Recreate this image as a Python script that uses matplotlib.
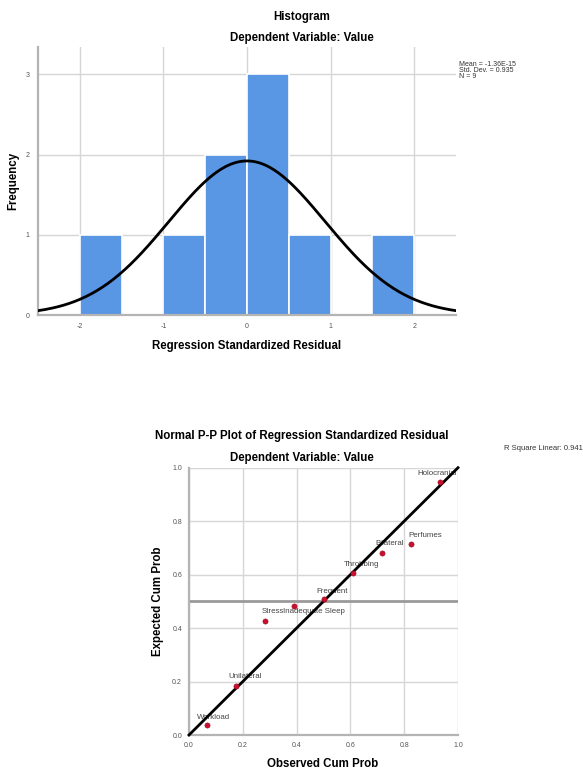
import numpy as np
import matplotlib
matplotlib.use("Agg")
import matplotlib.pyplot as plt

plt.rcParams['font.family'] = ['Liberation Sans', 'DejaVu Sans']
plt.rcParams['axes.unicode_minus'] = False

# histogram of standardized residuals (bin start, frequency)
bin_starts = [-2.0, -1.5, -1.0, -0.5, 0.0, 0.5, 1.0, 1.5]
bin_counts = [1, 0, 1, 2, 3, 1, 0, 1]
bin_width = 0.5
resid_mean = -1.36e-15
resid_std = 0.935
resid_n = 9

# normal P-P plot
pp_labels = ["Workload", "Unilateral", "Stress", "Inadequate Sleep", "Frequent",
             "Throbbing", "Bilateral", "Perfumes", "Holocranial"]
observed_cum = [0.068, 0.176, 0.284, 0.392, 0.500, 0.608, 0.716, 0.824, 0.932]
expected_cum = [0.037, 0.184, 0.428, 0.484, 0.508, 0.605, 0.682, 0.714, 0.945]
r_square = 0.941

# label offsets (pixels) relative to each point
label_dx = [-10, -8, -4, -11, -7, -9, -6, -2, -22]
label_dy = [8, 9, 9, -6, 8, 9, 9, 9, 9]

W, H = 583, 771
fig = plt.figure(figsize=(W / 100, H / 100), dpi=100)


def px(x, y):
    return x / W, 1 - y / H


def ax_rect(x0, y0, x1, y1):
    return [x0 / W, 1 - y1 / H, (x1 - x0) / W, (y1 - y0) / H]


grid_col = '#d6d6d6'
spine_col = '#b4b4b4'
tick_col = '#555555'
bold = dict(fontsize=8.3, fontweight='bold', ha='center', va='center')

# ---------------- histogram ----------------
ax1 = fig.add_axes(ax_rect(38, 47, 456, 315))
ax1.bar(bin_starts, bin_counts, width=bin_width, align='edge',
        color='#5996e3', edgecolor='white', linewidth=1.2, zorder=2)
xs = np.linspace(-2.5, 2.5, 300)
curve = resid_n * bin_width * np.exp(-0.5 * ((xs - resid_mean) / resid_std) ** 2) / (resid_std * np.sqrt(2 * np.pi))
ax1.plot(xs, curve, color='black', lw=2, zorder=3)
ax1.set_xlim(-2.5, 2.5)
ax1.set_ylim(0, 3.34)
ax1.set_xticks([-2, -1, 0, 1, 2])
ax1.set_yticks([0, 1, 2, 3])
ax1.grid(True, color=grid_col, lw=1, zorder=0)
ax1.set_axisbelow(True)
for s in ['top', 'right']:
    ax1.spines[s].set_visible(False)
for s in ['left', 'bottom']:
    ax1.spines[s].set_color(spine_col)
    ax1.spines[s].set_linewidth(1.6)
ax1.tick_params(length=0, labelsize=5, labelcolor=tick_col, pad=6)

fig.text(*px(247, 346), "Regression Standardized Residual", **bold)
fig.text(*px(13, 181), "Frequency", rotation=90, **bold)
fig.text(*px(302, 17), "Histogram", **bold)
fig.text(*px(302, 38), "Dependent Variable: Value", **bold)
stats = ["Mean = %.2E" % resid_mean, "Std. Dev. = %.3f" % resid_std, "N = %d" % resid_n]
for i, s in enumerate(stats):
    fig.text(*px(459, 65 + 6 * i), s, ha='left', va='center', fontsize=5, color='#333333')

# ---------------- P-P plot ----------------
ax2 = fig.add_axes(ax_rect(189, 467.7, 458, 735))
ax2.set_xlim(0, 1)
ax2.set_ylim(0, 1)
ticks = [0.0, 0.2, 0.4, 0.6, 0.8, 1.0]
ax2.set_xticks(ticks)
ax2.set_yticks(ticks)
ax2.set_xticklabels(["%.1f" % t for t in ticks])
ax2.set_yticklabels(["%.1f" % t for t in ticks])
ax2.grid(True, color=grid_col, lw=1, zorder=0)
ax2.set_axisbelow(True)
for s in ['top', 'right']:
    ax2.spines[s].set_visible(False)
for s in ['left', 'bottom']:
    ax2.spines[s].set_color(spine_col)
    ax2.spines[s].set_linewidth(1.6)
ax2.tick_params(length=0, labelsize=5, labelcolor=tick_col, pad=5)
ax2.axhline(0.5, color='#9a9a9a', lw=2, zorder=1)

for lab, x, y, dx, dy in zip(pp_labels, observed_cum, expected_cum, label_dx, label_dy):
    ax2.annotate(lab, (x, y), xytext=(dx, dy), textcoords='offset pixels',
                 ha='left', va='center', fontsize=5.7, color='#444444', zorder=2)
ax2.plot([0, 1], [0, 1], color='black', lw=2, zorder=3, clip_on=False)
ax2.scatter(observed_cum, expected_cum, s=14, color='#c8102e', edgecolor='#9a0a22',
            linewidth=0.4, zorder=4)

fig.text(*px(323, 764), "Observed Cum Prob", **bold)
fig.text(*px(158, 601), "Expected Cum Prob", rotation=90, **bold)
fig.text(*px(302, 436), "Normal P-P Plot of Regression Standardized Residual", **bold)
fig.text(*px(302, 458), "Dependent Variable: Value", **bold)
fig.text(*px(504, 448), "R Square Linear: %.3f" % r_square, ha='left', va='center',
         fontsize=5.5, color='#333333')

fig.savefig("out.png", dpi=100)
